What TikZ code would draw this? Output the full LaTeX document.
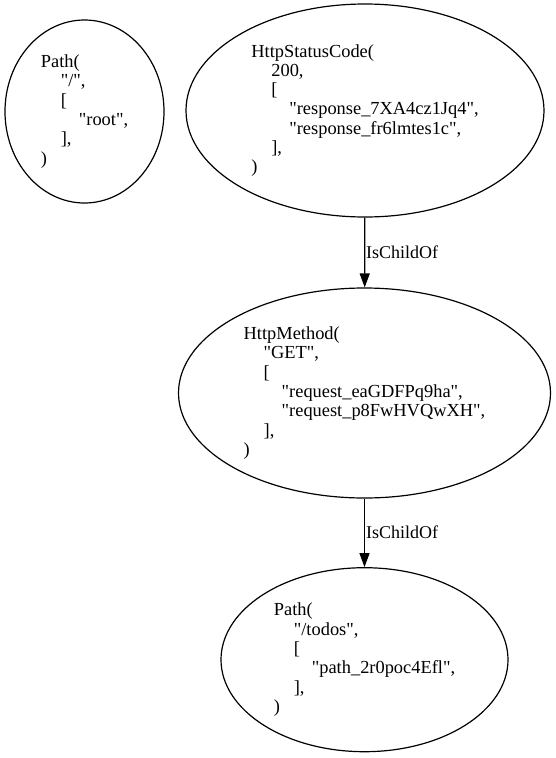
\documentclass[tikz,border=0pt]{standalone}
\usepackage{fontspec}
\setmainfont{Liberation Serif}[Ligatures=TeXOff]
\usetikzlibrary{shapes.geometric,arrows.meta}

% indentation levels of the printed structures
\newcommand{\ind}{\hspace*{20pt}}
\newcommand{\indd}{\hspace*{38pt}}

\begin{document}
\begin{tikzpicture}[x=1pt,y=-1pt,
  every node/.style={font=\fontsize{18.4}{19.3}\selectfont, text=black},
  valnode/.style={ellipse, draw=black, line width=1.2pt, inner sep=0pt, align=left},
  rel/.style={draw=black, line width=1.2pt, -{Triangle[length=14pt,width=10pt]}},
  rellabel/.style={anchor=west, inner sep=0pt, font=\fontsize{18}{19.3}\selectfont}
]
\useasboundingbox (0,0) rectangle (556,758);

\node[valnode, minimum width=159pt, minimum height=183pt] (root) at (84.5,111.5)
  {Path(\\
   \ind"/",\\
   \ind[\\
   \indd"root",\\
   \ind],\\
   )};

\node[valnode, minimum width=358pt, minimum height=213pt] (status) at (365,110.5)
  {HttpStatusCode(\\
   \ind 200,\\
   \ind[\\
   \indd"response\_7XA4cz1Jq4",\\
   \indd"response\_fr6lmtes1c",\\
   \ind],\\
   )};

\node[valnode, minimum width=372pt, minimum height=210pt] (method) at (364.5,393)
  {HttpMethod(\\
   \ind"GET",\\
   \ind[\\
   \indd"request\_eaGDFPq9ha",\\
   \indd"request\_p8FwHVQwXH",\\
   \ind],\\
   )};

\node[valnode, minimum width=287pt, minimum height=184pt] (todos) at (364.5,659.7)
  {Path(\\
   \ind"/todos",\\
   \ind[\\
   \indd"path\_2r0poc4Efl",\\
   \ind],\\
   )};

\draw[rel] (status) -- (method);
\draw[rel] (method) -- (todos);

\node[rellabel] (lab1) at (366,252) {IsChildOf};
\node[rellabel] (lab2) at (366,532) {IsChildOf};
\end{tikzpicture}
\end{document}
